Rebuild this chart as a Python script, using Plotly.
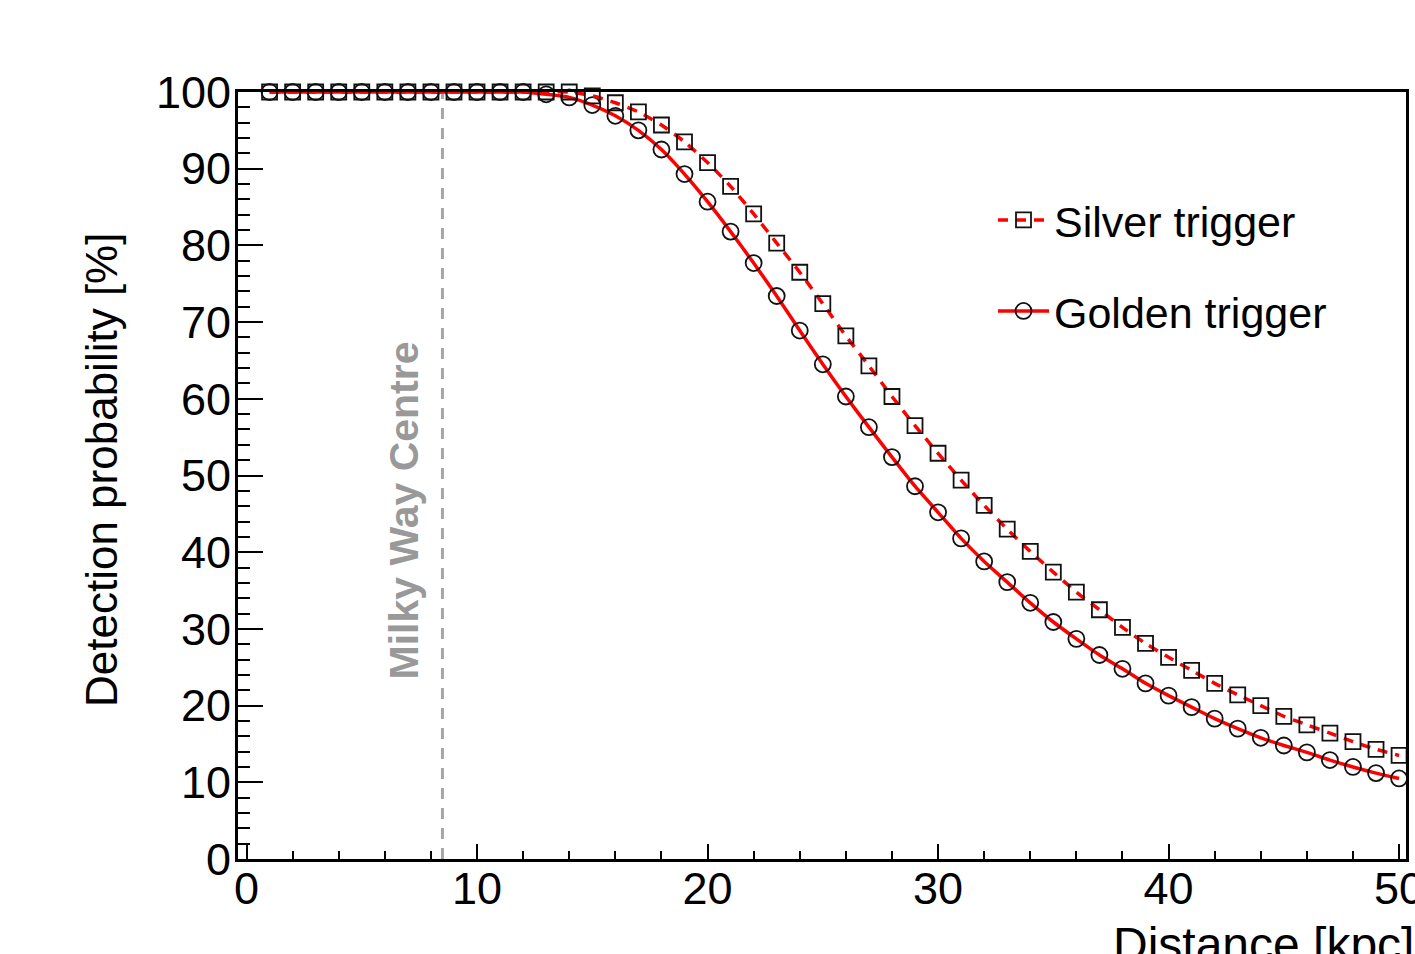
import plotly.graph_objects as go

# ---- data ----
distance_kpc = list(range(1, 51))

silver_trigger = [100.0] * 14 + [
    99.5, 98.6, 97.4, 95.7, 93.5, 90.8, 87.7, 84.1, 80.3, 76.5,
    72.4, 68.2, 64.3, 60.3, 56.5, 52.9, 49.4, 46.1, 43.0, 40.1,
    37.4, 34.8, 32.5, 30.2, 28.1, 26.3, 24.6, 22.9, 21.4, 20.0,
    18.6, 17.5, 16.4, 15.3, 14.3, 13.5,
]

golden_trigger = [100.0] * 12 + [
    99.7, 99.3, 98.3, 96.9, 95.0, 92.5, 89.3, 85.7, 81.8, 77.7,
    73.4, 68.9, 64.5, 60.3, 56.3, 52.4, 48.6, 45.2, 41.8, 38.8,
    36.1, 33.4, 30.9, 28.7, 26.6, 24.8, 22.9, 21.3, 19.8, 18.3,
    17.0, 15.8, 14.8, 13.9, 12.9, 12.0, 11.2, 10.5,
]

MW_CENTRE_KPC = 8.5
X_TICKS = [0, 10, 20, 30, 40, 50]
Y_TICKS = [0, 10, 20, 30, 40, 50, 60, 70, 80, 90, 100]

FONT = "Liberation Sans, Arial, Helvetica, sans-serif"

# body margin is removed via post_script, so figure pixels == screen pixels
W, H = 1415, 954
L, T = 238, 92
R = W - 1406
B = H - 859
pw, ph = W - L - R, H - T - B


def px_x(screen_px):
    return (screen_px - L) / pw


def px_y(screen_py):
    return (H - B - screen_py) / ph


fig = go.Figure()

fig.add_trace(go.Scatter(
    x=distance_kpc, y=golden_trigger, name="Golden trigger",
    mode="lines+markers",
    line=dict(color="#ff0000", width=3.5, shape="spline", smoothing=0.6),
    marker=dict(symbol="circle-open", size=16, color="#111111",
                line=dict(width=1.8, color="#111111")),
    cliponaxis=False, legend="legend2",
))

fig.add_trace(go.Scatter(
    x=distance_kpc, y=silver_trigger, name="Silver trigger",
    mode="lines+markers",
    line=dict(color="#ff0000", width=3.5, dash="10px,8px", shape="spline", smoothing=0.6),
    marker=dict(symbol="square-open", size=15, color="#111111",
                line=dict(width=1.8, color="#111111")),
    cliponaxis=False, legend="legend",
))

# Milky Way centre marker line
fig.add_shape(type="line", xref="x", yref="y",
              x0=MW_CENTRE_KPC, x1=MW_CENTRE_KPC, y0=0, y1=100,
              line=dict(color="#a6a6a6", width=3, dash="11px,9px"), layer="below")

fig.add_annotation(x=6.85, y=45.5, xref="x", yref="y", text="<b>Milky Way Centre</b>",
                   textangle=-90, showarrow=False, xanchor="center", yanchor="middle",
                   font=dict(family="Liberation Sans Narrow, Arial Narrow, " + FONT,
                             size=41, color="#999999"))

fig.add_annotation(x=px_x(101), y=px_y(470), xref="paper", yref="paper",
                   text="Detection probability [%]", textangle=-90, showarrow=False,
                   xanchor="center", yanchor="middle",
                   font=dict(family=FONT, size=44, color="black"))

fig.add_annotation(x=px_x(1416), y=px_y(916), xref="paper", yref="paper",
                   text="Distance [kpc]", showarrow=False,
                   xanchor="right", yanchor="top",
                   font=dict(family=FONT, size=48, color="black"))

legend_common = dict(
    xanchor="left", yanchor="middle", bgcolor="rgba(0,0,0,0)",
    font=dict(family=FONT, size=43, color="black"),
    itemwidth=51, borderwidth=0,
)

fig.update_layout(
    width=W, height=H, autosize=False,
    margin=dict(l=L, r=R, t=T, b=B, autoexpand=False),
    paper_bgcolor="white", plot_bgcolor="white",
    font=dict(family=FONT, size=45, color="black"),
    legend=dict(x=px_x(993), y=px_y(220), **legend_common),
    legend2=dict(x=px_x(993), y=px_y(311), **legend_common),
    showlegend=True,
)

fig.update_xaxes(
    range=[-0.37, 50.3], tickvals=X_TICKS, ticktext=[str(v) for v in X_TICKS],
    ticks="inside", ticklen=15, tickwidth=2, tickcolor="black",
    minor=dict(dtick=2, tick0=0, ticks="inside", ticklen=8, tickwidth=2, tickcolor="black"),
    showline=True, linewidth=3, linecolor="black", mirror=True, automargin=False,
    showgrid=False, zeroline=False, ticklabeloverflow="allow", ticklabelstandoff=-12,
    tickfont=dict(family=FONT, size=45, color="black"),
)

fig.update_yaxes(
    range=[0, 100], tickvals=Y_TICKS, ticktext=[str(v) for v in Y_TICKS],
    ticks="inside", ticklen=25, tickwidth=2, tickcolor="black",
    minor=dict(dtick=2, tick0=0, ticks="inside", ticklen=12, tickwidth=2, tickcolor="black"),
    showline=True, linewidth=3, linecolor="black", mirror=True, automargin=False,
    showgrid=False, zeroline=False, ticklabeloverflow="allow", ticklabelstandoff=-5,
    tickfont=dict(family=FONT, size=45, color="black"),
)

fig.write_html(
    "out.html",
    config={"displayModeBar": False},
    post_script="document.body.style.margin='0px';document.body.style.overflow='hidden';",
)
